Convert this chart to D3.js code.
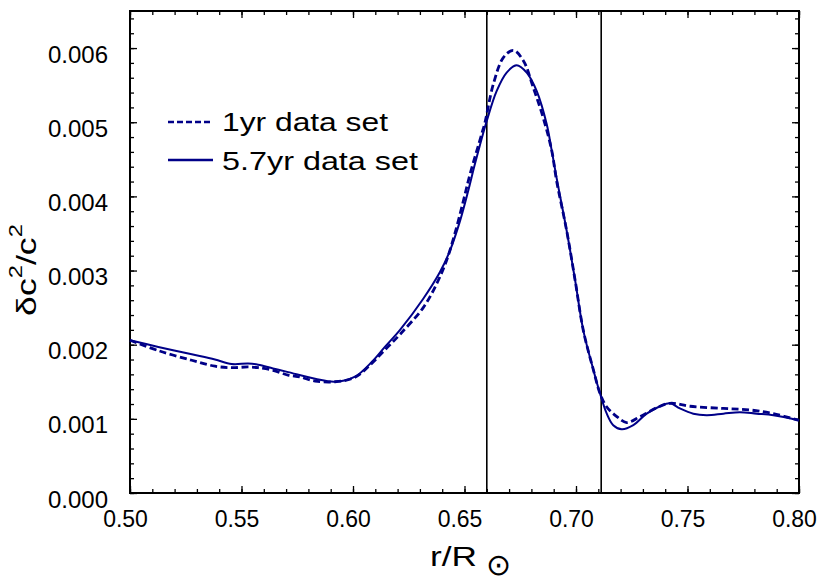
<!DOCTYPE html>
<html>
<head>
<meta charset="utf-8">
<script src="https://cdn.jsdelivr.net/npm/d3@7.9.0/dist/d3.min.js"></script>
<style>
  body { margin: 0; background: #fff; }
  text { font-family: "Liberation Sans", Arial, Helvetica, sans-serif; fill: #000; }
</style>
</head>
<body>
<svg id="chart" width="819" height="578"></svg>
<script>
// 5.7yr data set (solid)
const rLong = [0.500, 0.5127, 0.5277, 0.5381, 0.5456, 0.5530, 0.5575, 0.5641, 0.5709, 0.5830,
  0.5919, 0.6009, 0.6085, 0.6143, 0.6211, 0.6315, 0.6390, 0.6435, 0.6480, 0.6517,
  0.6547, 0.6600, 0.6644, 0.6689, 0.6734, 0.6779, 0.6824, 0.6869, 0.6891, 0.6913,
  0.6958, 0.6996, 0.7033, 0.7078, 0.7108, 0.7138, 0.7167, 0.7205, 0.7257, 0.7317,
  0.7377, 0.7422, 0.7466, 0.7526, 0.7586, 0.7661, 0.7735, 0.7810, 0.7885, 0.8000];
const dLong = [0.00206, 0.00197, 0.00187, 0.00180, 0.00174, 0.001745, 0.00173, 0.00168, 0.00163, 0.00154,
  0.00150, 0.00157, 0.00177, 0.00197, 0.00220, 0.00262, 0.00298, 0.00327, 0.00367, 0.00408,
  0.00444, 0.00502, 0.00542, 0.00567, 0.00577, 0.00567, 0.00542, 0.00497, 0.00462, 0.00425,
  0.00354, 0.00287, 0.00219, 0.00166, 0.00134, 0.00107, 0.000915, 0.00086, 0.000915, 0.00107,
  0.00117, 0.00121, 0.00114, 0.00107, 0.00105, 0.00107, 0.00109, 0.00107, 0.00105, 0.00098];

// 1yr data set (dashed)
const rShort = [0.500, 0.5127, 0.5277, 0.5381, 0.5456, 0.5530, 0.5575, 0.5641, 0.5709, 0.5762,
  0.5830, 0.5919, 0.6009, 0.6085, 0.6143, 0.6211, 0.6315, 0.6375, 0.6420, 0.6457,
  0.6495, 0.6525, 0.6577, 0.6592, 0.6629, 0.6674, 0.6719, 0.6764, 0.6808, 0.6853,
  0.6891, 0.6913, 0.6958, 0.6996, 0.7033, 0.7078, 0.7108, 0.7138, 0.7183, 0.7227,
  0.7287, 0.7362, 0.7422, 0.7511, 0.7661, 0.7780, 0.7885, 0.8000];
const dShort = [0.00206, 0.00192, 0.00179, 0.00171, 0.00169, 0.00170, 0.00169, 0.001655, 0.00159, 0.001565,
  0.00151, 0.00150, 0.00156, 0.00175, 0.00193, 0.00214, 0.00250, 0.00282, 0.00314, 0.00350,
  0.00394, 0.00430, 0.00484, 0.00500, 0.00551, 0.00587, 0.00597, 0.00583, 0.00547, 0.00506,
  0.00462, 0.00421, 0.00354, 0.00287, 0.00219, 0.00166, 0.00134, 0.00116, 0.00103, 0.00095,
  0.00103, 0.00115, 0.00121, 0.00117, 0.00114, 0.00112, 0.00107, 0.00098];

const xTicks = [0.50, 0.55, 0.60, 0.65, 0.70, 0.75, 0.80];
const yTicks = [0.000, 0.001, 0.002, 0.003, 0.004, 0.005, 0.006];
const markers = [0.66, 0.7113];   // vertical reference lines
const legendLabels = ["1yr data set", "5.7yr data set"];

const blue = "#000088";
const svg = d3.select("#chart");
const L = 130, R = 799, T = 11, B = 493;

const x = d3.scaleLinear().domain([0.5, 0.8]).range([L, R]);
const y = d3.scaleLinear().domain([0, 0.0065]).range([B, T]);

const xMinor = d3.range(0, 31).map(i => 0.5 + i * 0.01);
const yMinor = d3.range(0, 33).map(i => i * 0.0002);

// axes, ticks pointing inward on all four sides
function drawAxis(axis, tr) {
  const g = svg.append("g").attr("transform", tr).call(axis);
  g.select(".domain").remove();
  g.selectAll(".tick line").attr("stroke", "#000").attr("stroke-width", 1.3);
  return g;
}

const gx = drawAxis(d3.axisBottom(x).tickValues(xTicks).tickSize(-7).tickFormat(d3.format(".2f")), `translate(0,${B})`);
gx.selectAll("text").attr("y", 34).attr("dy", 0).attr("dx", -5).attr("font-size", 23);
drawAxis(d3.axisBottom(x).tickValues(xMinor).tickSize(-4).tickFormat(""), `translate(0,${B})`);
drawAxis(d3.axisTop(x).tickValues(xTicks).tickSize(-7).tickFormat(""), `translate(0,${T})`);
drawAxis(d3.axisTop(x).tickValues(xMinor).tickSize(-4).tickFormat(""), `translate(0,${T})`);

const gy = drawAxis(d3.axisLeft(y).tickValues(yTicks).tickSize(-7).tickFormat(d3.format(".3f")), `translate(${L},0)`);
gy.selectAll("text").attr("x", -22).attr("dy", 0).attr("y", 14).attr("font-size", 24);
drawAxis(d3.axisLeft(y).tickValues(yMinor).tickSize(-4).tickFormat(""), `translate(${L},0)`);
drawAxis(d3.axisRight(y).tickValues(yTicks).tickSize(-7).tickFormat(""), `translate(${R},0)`);
drawAxis(d3.axisRight(y).tickValues(yMinor).tickSize(-4).tickFormat(""), `translate(${R},0)`);

svg.selectAll(".tick text").attr("font-family", "'Liberation Sans', Arial, sans-serif");

// frame
svg.append("rect").attr("x", L).attr("y", T).attr("width", R - L).attr("height", B - T)
  .attr("fill", "none").attr("stroke", "#000").attr("stroke-width", 2);

// vertical markers
svg.selectAll(".marker").data(markers).enter().append("line")
  .attr("x1", d => x(d)).attr("x2", d => x(d)).attr("y1", T).attr("y2", B)
  .attr("stroke", "#000").attr("stroke-width", 1.6);

// curves
const line = d3.line().x(d => x(d[0])).y(d => y(d[1])).curve(d3.curveCatmullRom.alpha(0.5));
svg.append("path").datum(d3.zip(rLong, dLong)).attr("d", line)
  .attr("fill", "none").attr("stroke", blue).attr("stroke-width", 2);
svg.append("path").datum(d3.zip(rShort, dShort)).attr("d", line)
  .attr("fill", "none").attr("stroke", blue).attr("stroke-width", 2.8)
  .attr("stroke-dasharray", "7,3.5");

// legend
const lg = svg.append("g");
lg.append("line").attr("x1", 168).attr("x2", 213).attr("y1", 122).attr("y2", 122)
  .attr("stroke", blue).attr("stroke-width", 2.4).attr("stroke-dasharray", "6,3");
lg.append("line").attr("x1", 168).attr("x2", 213).attr("y1", 160).attr("y2", 160)
  .attr("stroke", blue).attr("stroke-width", 2.4);
lg.append("text").attr("x", 222).attr("y", 131).attr("font-size", 26)
  .attr("textLength", 166).attr("lengthAdjust", "spacingAndGlyphs").text(legendLabels[0]);
lg.append("text").attr("x", 222).attr("y", 170).attr("font-size", 26)
  .attr("textLength", 196).attr("lengthAdjust", "spacingAndGlyphs").text(legendLabels[1]);

// y title
const yt = svg.append("text").attr("text-anchor", "middle").attr("font-size", 27)
  .attr("transform", "translate(36,270) rotate(-90) scale(1.32,1)");
yt.append("tspan").text("δc");
yt.append("tspan").attr("font-size", 18).attr("dy", -14).text("2");
yt.append("tspan").attr("dy", 14).text("/c");
yt.append("tspan").attr("font-size", 18).attr("dy", -14).text("2");

// x title
svg.append("text").attr("x", 430).attr("y", 566).attr("font-size", 27)
  .attr("textLength", 47).attr("lengthAdjust", "spacingAndGlyphs").text("r/R");
svg.append("text").attr("x", 498).attr("y", 575).attr("text-anchor", "middle")
  .attr("font-size", 30).attr("font-family", "'DejaVu Sans', sans-serif").text("⊙");
</script>
</body>
</html>
